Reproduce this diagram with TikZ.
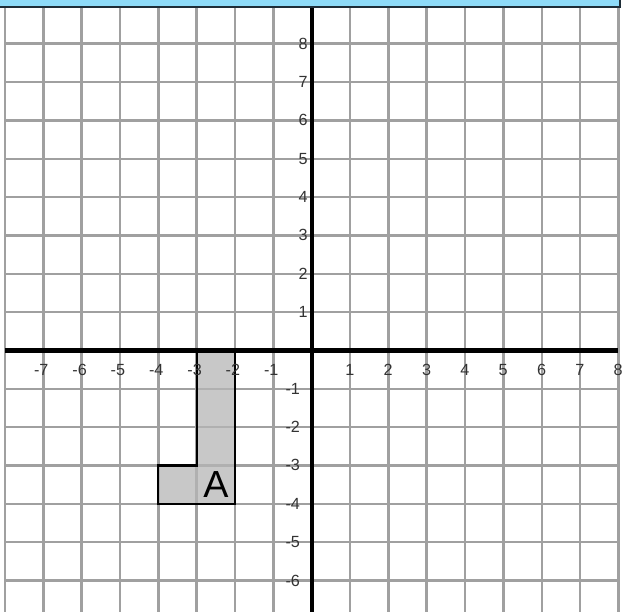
\documentclass[tikz,border=0pt]{standalone}
\usepackage{fontspec}
\setmainfont{Liberation Sans}
\usetikzlibrary{positioning}
\definecolor{stripblue}{RGB}{142,219,248}
\definecolor{stripedge}{RGB}{30,45,55}
\definecolor{gridgray}{RGB}{160,160,160}
\definecolor{shapegray}{RGB}{182,182,182}
\tikzset{
    gridline/.style={
      draw=gridgray,
      line width=1.8pt,
    },
    axisline/.style={
      draw=black,
      line width=3.2pt,
    },
    ticklabel/.style={
      inner sep=0pt,
      text=black!80,
      font=\fontsize{12}{14}\selectfont,
    },
    shapelabel/.style={
      inner sep=0pt,
      font=\fontsize{28}{30}\selectfont,
    },
}

\begin{document}
\begin{tikzpicture}

    \useasboundingbox (-8.13,-6.82) rectangle (8.12,9.14);

    % grid
    \foreach \x in {-8,...,8}
      \draw[gridline] (\x,-6.9) -- (\x,8.94);
    \foreach \y in {-6,...,8}
      \draw[gridline] (-8,\y) -- (8,\y);

    % shape A
    \fill[shapegray, opacity=.75]
      (-3,0) -- (-2,0) -- (-2,-4) -- (-4,-4) -- (-4,-3) -- (-3,-3) -- cycle;
    \draw[black, line width=1.6pt]
      (-3,0) -- (-2,0) -- (-2,-4) -- (-4,-4) -- (-4,-3) -- (-3,-3) -- cycle;
    \node[shapelabel] (A) at (-2.5,-3.5) {A};

    % axes
    \coordinate (xl) at (-8,0);
    \coordinate (xr) at (8,0);
    \coordinate (yb) at (0,-6.9);
    \coordinate (yt) at (0,8.94);
    \draw[axisline] (xl) -- (xr);
    \draw[axisline] (yb) -- (yt);

    % top strip
    \draw[fill=stripblue, draw=stripedge, line width=1.6pt]
      (-8.4,8.95) rectangle (8.05,9.6);

    % tick labels
    \foreach \x in {1,...,8}
      \node[ticklabel, anchor=east] (xp\x) at (\x+0.12,-0.5) {\x};
    \foreach \x in {1,...,7}
      \node[ticklabel, anchor=east] (xn\x) at (-\x+0.14,-0.5) {-\x};
    \foreach \y in {1,...,8}
      \node[ticklabel, anchor=east] (yp\y) at (-0.1,\y) {\y};
    \foreach \y in {1,...,6}
      \node[ticklabel, anchor=east] (yn\y) at (-0.3,-\y) {-\y};

\end{tikzpicture}
\end{document}
